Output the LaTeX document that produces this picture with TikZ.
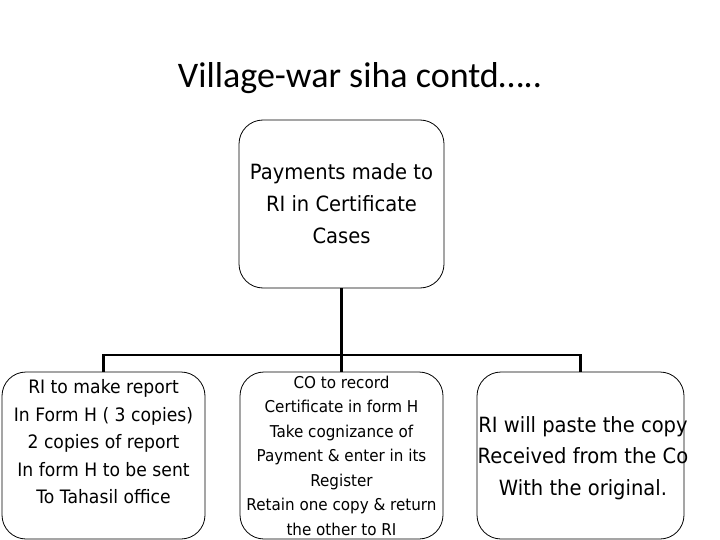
\documentclass[tikz,border=0pt]{standalone}
\usepackage{fontspec}
\setmainfont{DejaVu Sans}[FakeStretch=0.93]
\newfontfamily\titlefont{Carlito}
\usetikzlibrary{calc}
\tikzset{
	box/.style={draw, rounded corners=24pt, line width=0.8pt, minimum width=205pt, minimum height=167pt, inner sep=0pt},
	boxtext/.style={align=center, inner sep=0pt},
	link/.style={line width=2.4pt}
}

\begin{document}
\begin{tikzpicture}[x=1pt, y=-1pt]
		%%%%% START %%%%%
		\useasboundingbox (0, 0) rectangle (720, 540);
		
		\node[font=\titlefont\fontsize{36}{40}\selectfont] (title) at (360, 78) {Village-war siha contd\ldots..};
		
		\node[box, minimum height=168pt] (top) at (341.5, 204) {};
		\node[boxtext, font=\fontsize{21}{32}\selectfont] (toptext) at (top) {Payments made to\\ RI in Certificate\\ Cases};
		
		\node[box, minimum width=203pt] (left) at (103.5, 455.5) {};
		\node[boxtext, font=\fontsize{18.5}{27.5}\selectfont] (lefttext) at (103.5, 442) {RI to make report\\ In Form H ( 3 copies)\\ 2 copies of report\\ In form H to be sent\\ To Tahasil office};
		
		\node[box, minimum width=203pt] (mid) at (341.5, 455.5) {};
		\node[boxtext, font=\fontsize{16.3}{24.5}\selectfont] (midtext) at (mid) {CO to record\\ Certificate in form H\\ Take cognizance of\\ Payment \& enter in its\\ Register\\ Retain one copy \& return\\ the other to RI};
		
		\node[box, minimum width=207pt] (right) at (580.5, 455.5) {};
		\node[boxtext, font=\fontsize{21}{31.5}\selectfont] (righttext) at (583, 458) {RI will paste the copy\\ Received from the Co\\ With the original.};
		
		% connectors
		\coordinate (fork) at (341.5, 355);
		\draw[link] (top.south) -- (fork);
		\draw[link] (fork) -| (left.north);
		\draw[link] (fork) -| (right.north);
		\draw[link] (fork) -- (mid.north);
		
		%%%%% END %%%%%
	\end{tikzpicture}
\end{document}
